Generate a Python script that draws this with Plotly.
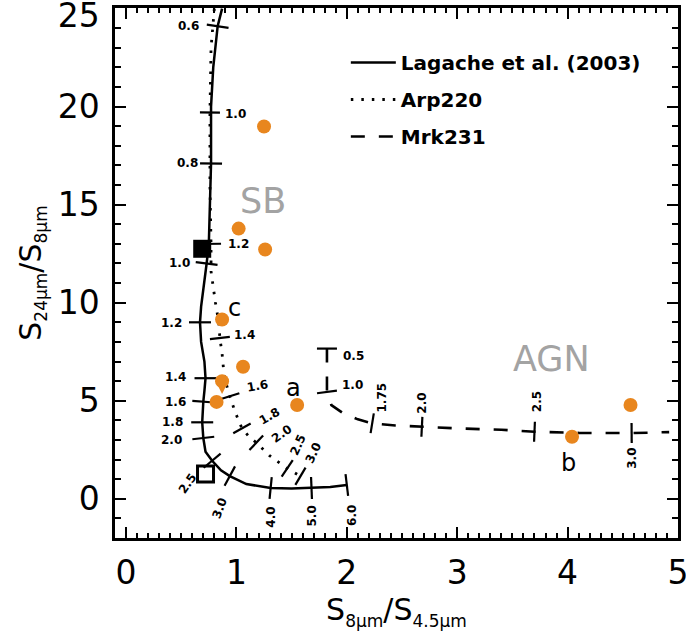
import numpy as np
import plotly.graph_objects as go

# ---------------- data ----------------
X_RANGE = [-0.1, 5.0]
Y_RANGE = [-2.0, 25.03]
X_TICKS = [0, 1, 2, 3, 4, 5]
Y_TICKS = [0, 5, 10, 15, 20, 25]
Y_TICK_TEXT = ["0", "5", "10", "15", "20", "25"]

# Lagache et al. (2003) template track
lag_x = [0.87, 0.83, 0.79, 0.77, 0.77, 0.76, 0.75, 0.73, 0.70, 0.68, 0.67, 0.68, 0.71, 0.72, 0.71,
         0.70, 0.69, 0.70, 0.72, 0.78, 0.86, 0.94, 1.09, 1.31, 1.50, 1.68, 1.85, 2.00]
lag_y = [25.0, 24.1, 22.0, 20.0, 17.1, 15.0, 13.0, 12.0, 10.8, 9.8, 9.0, 8.0, 7.0, 6.15, 5.5,
         4.95, 3.9, 3.1, 2.4, 1.94, 1.45, 1.16, 0.75, 0.55, 0.52, 0.55, 0.60, 0.70]
lag_z = ["0.6", "0.8", "1.0", "1.2", "1.4", "1.6", "1.8", "2.0", "2.5", "3.0", "4.0", "5.0", "6.0"]
lag_zx = [0.83, 0.77, 0.73, 0.67, 0.72, 0.70, 0.69, 0.70, 0.78, 0.94, 1.31, 1.68, 2.00]
lag_zy = [24.1, 17.1, 12.0, 9.0, 6.15, 4.95, 3.9, 3.1, 1.94, 1.16, 0.55, 0.55, 0.70]

# Arp220 track
arp_x = [0.80, 0.77, 0.76, 0.76, 0.77, 0.77, 0.81, 0.84, 0.85, 0.87, 0.89, 0.94, 0.99, 1.05,
         1.11, 1.18, 1.30, 1.46, 1.58]
arp_y = [25.0, 23.0, 19.7, 16.0, 13.0, 11.6, 10.0, 9.0, 8.2, 7.4, 6.2, 5.23, 4.4, 3.59,
         3.2, 2.86, 2.2, 1.55, 1.15]
arp_z = ["1.0", "1.2", "1.4", "1.6", "1.8", "2.0", "2.5", "3.0"]
arp_zx = [0.76, 0.77, 0.85, 0.94, 1.05, 1.18, 1.46, 1.58]
arp_zy = [19.7, 13.0, 8.2, 5.23, 3.59, 2.86, 1.55, 1.15]

# Mrk231 track
mrk_x = [1.82, 1.82, 1.82, 1.86, 1.97, 2.10, 2.23, 2.44, 2.68, 3.00, 3.40, 3.70, 4.10, 4.58, 4.92]
mrk_y = [7.66, 6.50, 5.45, 4.78, 4.35, 4.05, 3.85, 3.74, 3.67, 3.59, 3.52, 3.42, 3.36, 3.35, 3.40]
mrk_z = ["0.5", "1.0", "1.75", "2.0", "2.5", "3.0"]
mrk_zx = [1.82, 1.82, 2.23, 2.68, 3.70, 4.58]
mrk_zy = [7.66, 5.45, 3.85, 3.67, 3.42, 3.35]

# observed sources
src_x = [1.25, 1.02, 1.26, 0.87, 1.06, 0.87, 0.82, 1.55, 4.04, 4.57]
src_y = [18.99, 13.78, 12.71, 9.14, 6.73, 6.00, 4.94, 4.78, 3.16, 4.78]
lim_x = [0.87]          # upper limit (arrow)
lim_y_from = [5.72]
lim_y_to = [5.35]

# reference squares
fill_sq_x, fill_sq_y = [0.69], [12.75]
open_sq_x, open_sq_y = [0.72], [1.26]

# source letters
let_text = ["a", "b", "c"]
let_x = [1.52, 4.01, 0.98]
let_y = [5.67, 1.85, 9.74]

# region labels
reg_text = ["SB", "AGN"]
reg_x = [1.24, 3.85]
reg_y = [15.2, 7.14]

# ---------------- styles ----------------
FONT = "DejaVu Sans"
ORANGE = "#E8861E"
GREY = "#A3A3A3"
W, H = 686, 635
M = dict(l=115, r=8, t=8, b=97)
PXX = (W - M["l"] - M["r"]) / (X_RANGE[1] - X_RANGE[0])
PXY = (H - M["t"] - M["b"]) / (Y_RANGE[1] - Y_RANGE[0])

# label offsets (px) and angles for each redshift label
lag_lab = [(-29, 0, 0), (-24, 0, 0), (-27, 0, 0), (-29, -1, 0), (-30, 1, 0), (-28, 0, 0),
           (-30, 0, 0), (-32, -2, 0), (-25, -23, -55), (-10, -32, -70), (0, -29, -90),
           (0, -28, -90), (5, -30, -90)]
arp_lab = [(26, -1, 0), (27, 0, 0), (25, 3, 0), (28, 10, -10), (28, 12, -30), (25, 9, -35),
           (11, 23, -65), (13, 23, -65)]
mrk_lab = [(27, -7, 0), (26, 7, 0), (10, 26, -90), (0, 24, -90), (2, 30, -90), (0, -25, -90)]


def tick_segments(cx, cy, zx, zy, half):
    cxp = np.array(cx) * PXX
    cyp = np.array(cy) * PXY
    xs, ys = [], []
    for x, y in zip(zx, zy):
        px, py = x * PXX, y * PXY
        i = int(np.argmin((cxp - px) ** 2 + (cyp - py) ** 2))
        i0, i1 = max(i - 1, 0), min(i + 1, len(cx) - 1)
        tx, ty = cxp[i1] - cxp[i0], cyp[i1] - cyp[i0]
        n = np.hypot(tx, ty)
        nx, ny = -ty / n, tx / n
        xs += [x - nx * half / PXX, x + nx * half / PXX, None]
        ys += [y - ny * half / PXY, y + ny * half / PXY, None]
    return xs, ys


fig = go.Figure()

# tracks
fig.add_trace(go.Scatter(x=lag_x, y=lag_y, mode="lines", name="Lagache et al. (2003)",
                         line=dict(color="black", width=2.5), legendgroup="a"))
fig.add_trace(go.Scatter(x=arp_x, y=arp_y, mode="lines", name="Arp220",
                         line=dict(color="black", width=2.8, dash="2.5px,8px"), legendgroup="b"))
fig.add_trace(go.Scatter(x=mrk_x, y=mrk_y, mode="lines", name="Mrk231",
                         line=dict(color="black", width=2.6, dash="14px,14px"), legendgroup="c"))

# redshift ticks
for cx, cy, zx, zy, half in [(lag_x, lag_y, lag_zx, lag_zy, 11),
                             (arp_x, arp_y, arp_zx, arp_zy, 10),
                             (mrk_x, mrk_y, mrk_zx, mrk_zy, 10)]:
    tx, ty = tick_segments(cx, cy, zx, zy, half)
    fig.add_trace(go.Scatter(x=tx, y=ty, mode="lines", showlegend=False, hoverinfo="skip",
                             line=dict(color="black", width=2.2)))

# sources
fig.add_trace(go.Scatter(x=src_x, y=src_y, mode="markers", showlegend=False,
                         marker=dict(color=ORANGE, size=14, line=dict(width=0))))
fig.add_trace(go.Scatter(x=fill_sq_x, y=fill_sq_y, mode="markers", showlegend=False,
                         marker=dict(color="black", size=18, symbol="square")))
fig.add_trace(go.Scatter(x=open_sq_x, y=open_sq_y, mode="markers", showlegend=False,
                         marker=dict(color="black", size=16, symbol="square-open",
                                     line=dict(width=3, color="black"))))

ann = []
lab_font = dict(family=FONT, size=12, color="black", weight="bold")
for zs, zx, zy, offs in [(lag_z, lag_zx, lag_zy, lag_lab), (arp_z, arp_zx, arp_zy, arp_lab),
                         (mrk_z, mrk_zx, mrk_zy, mrk_lab)]:
    for t, x, y, (dx, dy, ang) in zip(zs, zx, zy, offs):
        ann.append(dict(x=x, y=y, text=t, showarrow=False, xshift=dx, yshift=dy,
                        textangle=ang, xanchor="center", yanchor="middle", font=lab_font))

for t, x, y in zip(let_text, let_x, let_y):
    ann.append(dict(x=x, y=y, text=t, showarrow=False, xanchor="center", yanchor="middle",
                    font=dict(family=FONT, size=24, color="black")))
for t, x, y in zip(reg_text, reg_x, reg_y):
    ann.append(dict(x=x, y=y, text=t, showarrow=False, xanchor="center", yanchor="middle",
                    font=dict(family=FONT, size=35, color=GREY)))
for x, y0, y1 in zip(lim_x, lim_y_from, lim_y_to):
    ann.append(dict(x=x, y=y1, ax=x, ay=y0, axref="x", ayref="y", text="", showarrow=True,
                    arrowhead=2, arrowsize=0.9, arrowwidth=2, arrowcolor=ORANGE))

sub = '<span style="font-size:17px">%s</span>'
x_title = "S<sub>" + sub % "8µm" + "</sub>/S<sub>" + sub % "4.5µm" + "</sub>"
y_title = "S<sub>" + sub % "24µm" + "</sub>/S<sub>" + sub % "8µm" + "</sub>"

# the top label sits slightly lower so it stays inside the page (as in the original)
y_tick_text = Y_TICK_TEXT[:-1] + ['<sub><span style="font-size:33px">%s</span></sub>'
                                  % Y_TICK_TEXT[-1]]

axis_common = dict(showline=True, linecolor="black", linewidth=2.5, mirror="ticks",
                   ticks="inside", tickcolor="black", tickwidth=2, ticklen=11,
                   showgrid=False, zeroline=False, automargin=False,
                   ticklabeloverflow="allow",
                   tickfont=dict(family=FONT, size=33, color="black"))

fig.update_layout(
    width=W, height=H, margin=M,
    paper_bgcolor="white", plot_bgcolor="white",
    annotations=ann,
    xaxis=dict(range=X_RANGE, tickvals=X_TICKS, ticklabelstandoff=4,
               minor=dict(dtick=0.1, tick0=0, ticks="inside", ticklen=5, tickwidth=1.5,
                          tickcolor="black", showgrid=False),
               title=dict(text=x_title, font=dict(family=FONT, size=30, color="black"),
                          standoff=0),
               **axis_common),
    yaxis=dict(range=Y_RANGE, tickvals=Y_TICKS, ticktext=y_tick_text, ticklabelstandoff=6,
               minor=dict(dtick=1, tick0=0, ticks="inside", ticklen=6, tickwidth=1.5,
                          tickcolor="black", showgrid=False),
               title=dict(text=y_title, font=dict(family=FONT, size=30, color="black"),
                          standoff=8),
               **axis_common),
    legend=dict(x=0.41, y=0.934, xanchor="left", yanchor="top", bgcolor="rgba(0,0,0,0)",
                font=dict(family=FONT, size=20, color="black", weight="bold"),
                tracegroupgap=8, itemwidth=45),
    showlegend=True,
)

fig.write_html("out.html", config={"displayModeBar": False},
               post_script="document.body.style.margin='0';")
